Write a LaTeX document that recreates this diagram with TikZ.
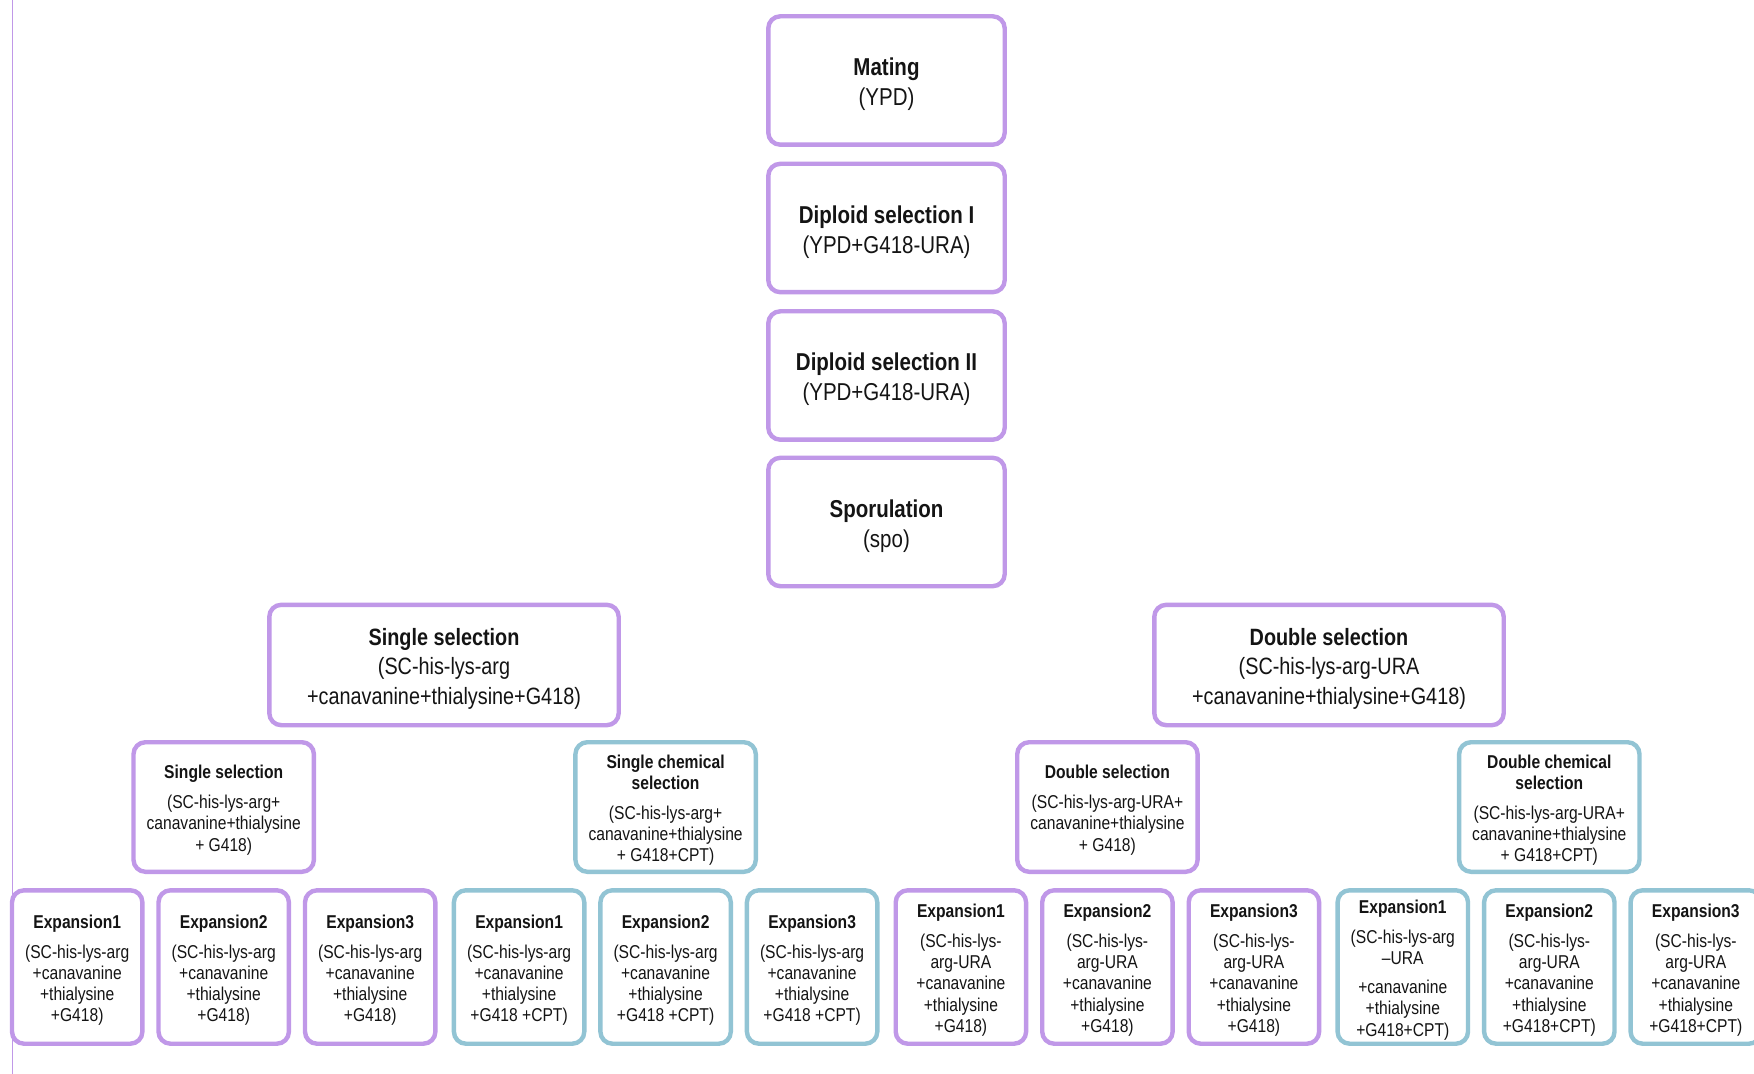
\documentclass[tikz,border=0pt]{standalone}
\usepackage{fontspec}
\setmainfont{Liberation Sans}[FakeStretch=0.84]
\usetikzlibrary{backgrounds}
\definecolor{lav}{RGB}{192,152,232}
\definecolor{aqua}{RGB}{146,196,212}
\definecolor{ink}{RGB}{20,20,20}
% tall strut on the first line nudges each text block slightly downwards
\newcommand{\tp}{\rule{0pt}{1.05em}}
\tikzset{
  box/.style={draw, rounded corners=6pt, line width=2.2pt, fill=white,
    align=center, inner sep=0pt, text=ink},
  pbox/.style={box, draw=lav},
  tbox/.style={box, draw=aqua},
  topbox/.style={pbox, minimum width=118.2pt, minimum height=64.2pt,
    font=\fontsize{12.2}{15.1}\selectfont},
  midbox/.style={pbox, minimum width=174.7pt, minimum height=60.2pt,
    font=\fontsize{11.8}{14.8}\selectfont},
  subbox/.style={minimum width=90.2pt, minimum height=64.8pt,
    font=\fontsize{9.3}{10.6}\selectfont},
  expbox/.style={minimum width=65.2pt, minimum height=76.7pt,
    font=\fontsize{9.3}{10.6}\selectfont},
  pline/.style={draw=lav, line width=1.8pt},
  tline/.style={draw=aqua, line width=1.8pt},
}
\begin{document}
\begin{tikzpicture}[x=0.5pt, y=-0.5pt]
\fill[white] (0,0) rectangle (1754,1074);
\useasboundingbox (0,0) rectangle (1754,1074);

% frame line on the left
\coordinate (frameTop) at (12.5,0);
\coordinate (frameBot) at (12.5,1074);
\draw[lav, line width=0.6pt] (frameTop) -- (frameBot);

% bus levels
\coordinate (y1) at (0,593);
\coordinate (y2) at (0,733.5);
\coordinate (y3) at (0,881.5);

% main pipeline
\node[topbox] (mat)  at (886.5,80.5)  {\tp\textbf{Mating}\\(YPD)};
\node[topbox] (dip1) at (886.5,228)   {\tp\textbf{Diploid selection I}\\(YPD+G418-URA)};
\node[topbox] (dip2) at (886.5,375.5) {\tp\textbf{Diploid selection II}\\(YPD+G418-URA)};
\node[topbox] (spo)  at (886.5,522)   {\tp\textbf{Sporulation}\\(spo)};

% first split
\node[midbox] (ls) at (444,665)
  {\tp\textbf{Single selection}\\(SC-his-lys-arg\\+canavanine+thialysine+G418)};
\node[midbox] (rs) at (1329,665)
  {\tp\textbf{Double selection}\\(SC-his-lys-arg-URA\\+canavanine+thialysine+G418)};

% second split
\node[pbox, subbox] (ss) at (223.7,807)
  {\tp\textbf{Single selection}\\[4.4pt](SC-his-lys-arg+\\canavanine+thialysine\\+ G418)};
\node[tbox, subbox] (sc) at (665.6,807)
  {\tp\textbf{Single chemical}\\\textbf{selection}\\[4.4pt](SC-his-lys-arg+\\canavanine+thialysine\\+ G418+CPT)};
\node[pbox, subbox] (ds) at (1107.4,807)
  {\tp\textbf{Double selection}\\[4.4pt](SC-his-lys-arg-URA+\\canavanine+thialysine\\+ G418)};
\node[tbox, subbox] (dc) at (1549.3,807)
  {\tp\textbf{Double chemical}\\\textbf{selection}\\[4.4pt](SC-his-lys-arg-URA+\\canavanine+thialysine\\+ G418+CPT)};

% expansions
\foreach \i/\dx in {1/-146.5, 2/0, 3/146.5} {
  \node[pbox, expbox] (ss\i) at ({223.7+\dx},967)
    {\tp\textbf{Expansion\i}\\[4.4pt](SC-his-lys-arg\\+canavanine\\+thialysine\\+G418)};
  \node[tbox, expbox] (sc\i) at ({665.6+\dx},967)
    {\tp\textbf{Expansion\i}\\[4.4pt](SC-his-lys-arg\\+canavanine\\+thialysine\\+G418 +CPT)};
  \node[pbox, expbox] (ds\i) at ({1107.4+\dx},967)
    {\tp\textbf{Expansion\i}\\[4.4pt](SC-his-lys-\\arg-URA\\+canavanine\\+thialysine\\+G418)};
}
\node[tbox, expbox] (dc1) at (1402.8,967)
  {\tp\textbf{Expansion1}\\[4.4pt](SC-his-lys-arg\\\textendash URA\\[3.9pt]+canavanine\\+thialysine\\+G418+CPT)};
\foreach \i/\dx in {2/0, 3/146.5} {
  \node[tbox, expbox] (dc\i) at ({1549.3+\dx},967)
    {\tp\textbf{Expansion\i}\\[4.4pt](SC-his-lys-\\arg-URA\\+canavanine\\+thialysine\\+G418+CPT)};
}

% connectors
\begin{scope}[on background layer]
  \draw[pline] (mat.south) -- (dip1.north);
  \draw[pline] (dip1.south) -- (dip2.north);
  \draw[pline] (dip2.south) -- (spo.north);
  \draw[pline] (spo.south) -- (spo.south |- y1) -| (ls.north);
  \draw[pline] (spo.south |- y1) -| (rs.north);

  \draw[pline] (ls.south) -- (ls.south |- y2) -| (ss.north);
  \draw[tline] (ls.south) -- (ls.south |- y2) -| (sc.north);
  \draw[pline] (rs.south) -- (rs.south |- y2) -| (ds.north);
  \draw[tline] (rs.south) -- (rs.south |- y2) -| (dc.north);

  \foreach \p/\st in {ss/pline, sc/tline, ds/pline, dc/tline} {
    \foreach \i in {1,2,3} {
      \draw[\st] (\p.south) -- (\p.south |- y3) -| (\p\i.north);
    }
  }
\end{scope}
\end{tikzpicture}
\end{document}
